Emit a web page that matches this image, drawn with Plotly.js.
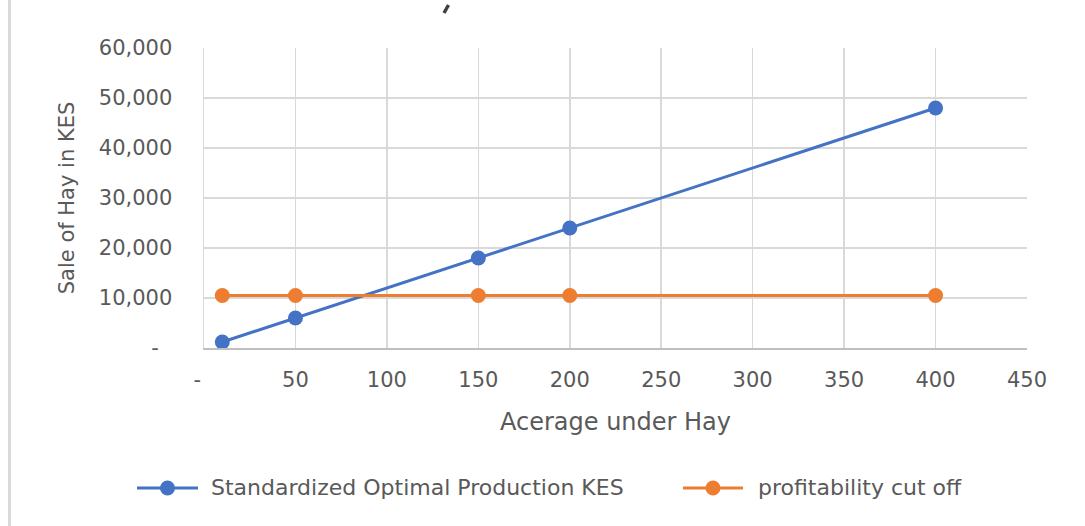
<!DOCTYPE html>
<html>
<head>
<meta charset="utf-8">
<script src="https://cdn.plot.ly/plotly-3.0.1.min.js"></script>
<style>
  html, body { margin: 0; padding: 0; background: #ffffff; }
  #chart { width: 1085px; height: 526px; }
</style>
</head>
<body>
<div id="chart"></div>
<script>
// Acreage under hay and the matching sale values (KES)
const acreage = [10, 50, 150, 200, 400];
const optimalProduction = [1200, 6000, 18000, 24000, 48000];
const profitabilityCutoff = [10500, 10500, 10500, 10500, 10500];

const seriesNames = ['Standardized Optimal Production KES', 'profitability cut off'];
const seriesColors = ['#4472C4', '#ED7D31'];

const xTickVals = [0, 50, 100, 150, 200, 250, 300, 350, 400, 450];
const xTickText = ['-\u00a0\u00a0', '50', '100', '150', '200', '250', '300', '350', '400', '450'];
const yTickVals = [0, 10000, 20000, 30000, 40000, 50000, 60000];
const yTickText = ['-\u00a0\u00a0', '10,000', '20,000', '30,000', '40,000', '50,000', '60,000'];

const W = 1085, H = 526;
const M = { l: 204, r: 58, t: 48, b: 178 };
const plotW = W - M.l - M.r, plotH = H - M.t - M.b;
// pixel position -> paper coordinates
const px = x => (x - M.l) / plotW;
const py = y => 1 - (y - M.t) / plotH;

const FONT = 'DejaVu Sans';
const TEXT = '#595959';
const GRID = '#d9d9d9';

const traces = [
  { x: acreage, y: optimalProduction, name: seriesNames[0] },
  { x: acreage, y: profitabilityCutoff, name: seriesNames[1] }
].map((t, i) => Object.assign(t, {
  type: 'scatter',
  mode: 'lines+markers',
  line: { color: seriesColors[i], width: 3 },
  marker: { color: seriesColors[i], size: 15 },
  cliponaxis: false,
  showlegend: false
}));

// hand-placed legend entries
const legendY = py(488);
const legendItems = [
  { x0: 137, x1: 198, text: 209 },
  { x0: 683, x1: 743, text: 756 }
];
const shapes = [];
const annotations = [];
legendItems.forEach((it, i) => {
  shapes.push({
    type: 'line', xref: 'paper', yref: 'paper',
    x0: px(it.x0), x1: px(it.x1), y0: legendY, y1: legendY,
    line: { color: seriesColors[i], width: 3 }
  });
  const cx = px((it.x0 + it.x1) / 2);
  shapes.push({
    type: 'circle', xref: 'paper', yref: 'paper',
    xsizemode: 'pixel', ysizemode: 'pixel',
    xanchor: cx, yanchor: legendY,
    x0: -7.5, x1: 7.5, y0: -7.5, y1: 7.5,
    fillcolor: seriesColors[i], line: { width: 0 }
  });
  annotations.push({
    xref: 'paper', yref: 'paper', x: px(it.text), y: legendY,
    xanchor: 'left', yanchor: 'middle', showarrow: false,
    text: seriesNames[i], font: { family: FONT, size: 22, color: TEXT }
  });
});

// chart frame edge on the left
shapes.push({
  type: 'line', xref: 'paper', yref: 'paper',
  x0: px(9.5), x1: px(9.5), y0: py(0), y1: py(H),
  line: { color: GRID, width: 3 }
});

// clipped tail of the heading glyph along the top edge
shapes.push({
  type: 'path', xref: 'paper', yref: 'paper',
  path: 'M ' + px(448.5) + ' ' + py(5) + ' L ' + px(444) + ' ' + py(13),
  line: { color: '#404040', width: 3.5 }
});

const layout = {
  width: W, height: H,
  margin: M,
  paper_bgcolor: '#ffffff', plot_bgcolor: '#ffffff',
  font: { family: FONT, color: TEXT, size: 21 },
  showlegend: false,
  xaxis: {
    range: [0, 450],
    tickmode: 'array', tickvals: xTickVals, ticktext: xTickText,
    showgrid: true, gridcolor: GRID, gridwidth: 1.5,
    zeroline: false,
    showline: true, linecolor: '#bfbfbf', linewidth: 2,
    ticks: '', ticklabelstandoff: 12,
    tickfont: { family: FONT, size: 21, color: TEXT },
    title: { text: 'Acerage under Hay', font: { family: FONT, size: 24, color: TEXT }, standoff: 22 },
    automargin: false, fixedrange: true
  },
  yaxis: {
    range: [0, 60000],
    tickmode: 'array', tickvals: yTickVals, ticktext: yTickText,
    showgrid: true, gridcolor: GRID, gridwidth: 1.5,
    zeroline: false,
    showline: true, linecolor: GRID, linewidth: 1.5,
    ticks: '', ticklabelstandoff: 26,
    tickfont: { family: FONT, size: 21, color: TEXT },
    title: { text: 'Sale of Hay in KES', font: { family: FONT, size: 21, color: TEXT }, standoff: 18 },
    automargin: false, fixedrange: true
  },
  shapes: shapes,
  annotations: annotations
};

Plotly.newPlot('chart', traces, layout, { displayModeBar: false, staticPlot: true });
</script>
</body>
</html>
